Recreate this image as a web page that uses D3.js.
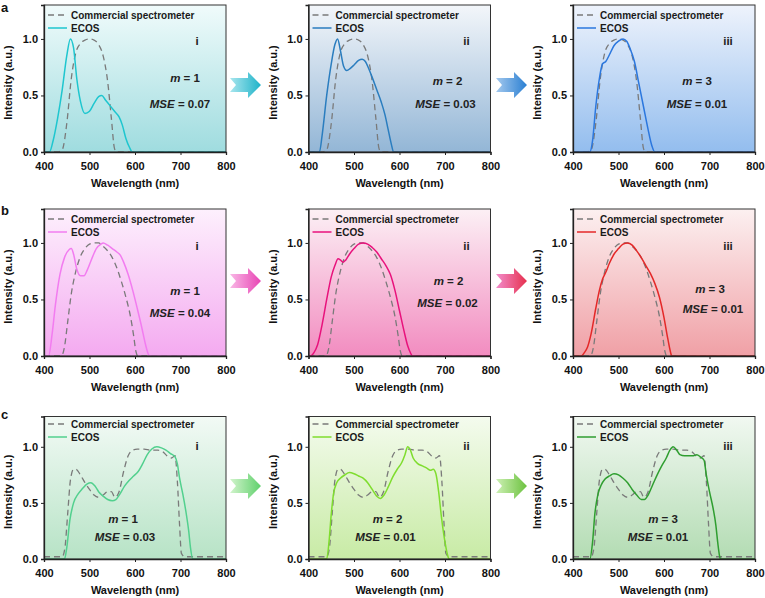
<!DOCTYPE html>
<html>
<head>
<meta charset="utf-8">
<script src="https://cdn.jsdelivr.net/npm/d3@7"></script>
<style>
  body { margin: 0; background: #fff; }
  text { font-family: Arial, "Liberation Sans", Helvetica, sans-serif; }
</style>
</head>
<body>
<div id="chart"></div>
<script>
// ---- data ----
var xTicks = [400, 500, 600, 700, 800];
var yTicks = [0, 0.5, 1.0];
var rowLetters = ["a", "b", "c"];
var colNumerals = ["i", "ii", "iii"];
var mValues = [1, 2, 3];
var mseValues = [["0.07", "0.03", "0.01"], ["0.04", "0.02", "0.01"], ["0.03", "0.01", "0.01"]];

// commercial spectrometer reference spectra (one per row)
var commA = [[400,0],[430,0],[440,0.02],[450,0.25],[460,0.65],[470,0.88],[480,0.96],[490,0.99],[500,1.0],[510,0.99],[520,0.95],[530,0.85],[540,0.62],[548,0.3],[555,0.03],[560,0],[800,0]];
var commB = [[400,0],[438,0],[445,0.08],[452,0.3],[460,0.55],[470,0.75],[480,0.88],[490,0.95],[500,0.99],[510,1.0],[520,1.0],[530,0.97],[540,0.93],[550,0.87],[560,0.78],[570,0.66],[580,0.52],[590,0.35],[597,0.18],[602,0.04],[606,0],[800,0]];
var commC = [[400,0.02],[440,0.02],[446,0.1],[452,0.4],[458,0.7],[465,0.8],[470,0.8],[480,0.75],[490,0.68],[500,0.62],[510,0.57],[520,0.55],[530,0.57],[540,0.6],[548,0.6],[556,0.55],[565,0.6],[575,0.78],[585,0.92],[595,0.97],[605,0.98],[620,0.98],[635,0.97],[650,0.97],[660,0.96],[670,0.92],[680,0.9],[688,0.92],[693,0.7],[698,0.3],[702,0.05],[710,0.02],[800,0.02]];

// ECOS reconstructions
var ecosA1 = [[400,0],[412,0],[420,0.1],[430,0.3],[440,0.55],[450,0.85],[458,1.0],[465,0.92],[472,0.65],[480,0.45],[490,0.34],[500,0.36],[510,0.43],[520,0.49],[527,0.5],[535,0.46],[545,0.41],[555,0.36],[565,0.31],[572,0.24],[580,0.12],[588,0.04],[594,0],[800,0]];
var ecosA2 = [[400,0],[424,0],[430,0.15],[440,0.5],[450,0.78],[458,0.95],[464,1.0],[470,0.9],[477,0.76],[484,0.72],[492,0.74],[500,0.77],[510,0.81],[518,0.82],[525,0.8],[532,0.74],[540,0.66],[550,0.55],[560,0.44],[568,0.33],[575,0.2],[582,0.07],[587,0],[800,0]];
var ecosA3 = [[400,0],[437,0],[443,0.1],[450,0.4],[458,0.65],[465,0.78],[472,0.8],[480,0.86],[490,0.94],[500,0.98],[510,1.0],[518,0.98],[525,0.92],[535,0.8],[545,0.6],[555,0.4],[565,0.2],[573,0.06],[580,0],[800,0]];
var ecosB1 = [[400,0],[410,0],[418,0.2],[425,0.45],[435,0.72],[445,0.87],[455,0.94],[460,0.95],[465,0.9],[472,0.77],[480,0.71],[488,0.71],[495,0.76],[505,0.86],[515,0.95],[525,0.99],[530,1.0],[540,0.98],[550,0.95],[560,0.92],[568,0.89],[575,0.83],[585,0.72],[595,0.58],[605,0.42],[615,0.25],[622,0.12],[628,0.03],[632,0],[800,0]];
var ecosB2 = [[400,0],[405,0],[412,0.03],[420,0.1],[430,0.28],[440,0.5],[450,0.7],[458,0.8],[465,0.86],[470,0.85],[476,0.83],[482,0.85],[490,0.9],[500,0.95],[510,0.99],[520,1.0],[530,0.99],[540,0.96],[550,0.92],[560,0.86],[570,0.8],[580,0.72],[590,0.58],[600,0.4],[610,0.22],[618,0.09],[625,0.02],[628,0],[800,0]];
var ecosB3 = [[400,0],[418,0],[425,0.03],[432,0.08],[440,0.2],[450,0.42],[458,0.58],[465,0.68],[472,0.74],[480,0.82],[490,0.9],[500,0.95],[510,0.99],[520,1.0],[530,0.98],[540,0.93],[550,0.87],[560,0.8],[570,0.73],[580,0.64],[590,0.52],[600,0.34],[608,0.16],[614,0.04],[617,0],[800,0]];
var ecosC1 = [[400,0],[445,0],[450,0.1],[457,0.35],[465,0.5],[475,0.58],[485,0.63],[495,0.67],[503,0.68],[512,0.65],[520,0.6],[530,0.56],[540,0.53],[550,0.52],[558,0.53],[567,0.58],[577,0.65],[587,0.7],[597,0.74],[607,0.78],[617,0.85],[627,0.93],[637,0.98],[648,1.0],[658,0.99],[668,0.97],[678,0.94],[688,0.91],[693,0.85],[698,0.72],[705,0.58],[712,0.42],[718,0.25],[722,0.1],[727,0],[800,0]];
var ecosC2 = [[400,0],[440,0],[445,0.15],[450,0.4],[455,0.58],[462,0.68],[470,0.72],[480,0.75],[490,0.77],[500,0.76],[510,0.74],[520,0.72],[530,0.68],[540,0.62],[550,0.56],[558,0.54],[566,0.57],[575,0.64],[585,0.73],[595,0.8],[605,0.86],[612,0.93],[618,1.0],[623,0.98],[630,0.9],[640,0.85],[650,0.83],[660,0.81],[668,0.79],[674,0.8],[680,0.76],[686,0.6],[692,0.38],[700,0.15],[706,0.03],[709,0],[800,0]];
var ecosC3 = [[400,0],[437,0],[443,0.15],[448,0.4],[455,0.58],[462,0.66],[470,0.71],[480,0.74],[490,0.76],[500,0.75],[510,0.72],[520,0.68],[530,0.62],[540,0.57],[550,0.53],[557,0.53],[565,0.57],[575,0.66],[585,0.75],[595,0.83],[605,0.9],[613,0.97],[620,1.0],[628,0.97],[635,0.93],[645,0.92],[655,0.92],[665,0.92],[672,0.93],[680,0.91],[688,0.88],[693,0.75],[700,0.6],[708,0.45],[714,0.3],[718,0.15],[722,0.03],[724,0],[800,0]];

var commercial = [commA, commB, commC];
var ecos = [[ecosA1, ecosA2, ecosA3], [ecosB1, ecosB2, ecosB3], [ecosC1, ecosC2, ecosC3]];

// ---- layout / styles ----
var W = 765, H = 598;
var colLeft = [44, 308.5, 573];
var plotW = 182;
var rows = [
  { top: 5, bottom: 152, yMax: 1.3, legDy: 10, letterY: 12 },
  { top: 209, bottom: 356, yMax: 1.3, legDy: 10, letterY: 215 },
  { top: 416.5, bottom: 559, yMax: 1.27, legDy: 7.5, letterY: 419 }
];
var lineColors = [["#1ec6cf", "#2a7dbf", "#2b77de"], ["#f27cf0", "#e8127c", "#e42828"], ["#52d08e", "#7fdd2e", "#2f9e30"]];
var bgTop = [["#f0fbfb", "#f3f6fa", "#eef3fc"], ["#fdf0fd", "#fcf0f5", "#fcf0f0"], ["#f2faf5", "#f4fbee", "#f1f8f1"]];
var bgBottom = [["#9fdcdf", "#93b6d6", "#93bdee"], ["#f4aaf0", "#f28cc0", "#f0a0a6"], ["#b7e3c6", "#c8eba5", "#b3dcb3"]];
// annotation positions relative to panel left/top (numeral, m, MSE)
var annot = [
  [[153, 40, 141, 77, 136, 103], [158, 40, 139, 80, 137, 103], [155, 40, 124, 80, 124, 103]],
  [[153, 41, 141, 86, 136, 108], [158, 41, 140, 76, 139, 98], [155, 41, 137, 84, 140, 104]],
  [[153, 33, 79, 106, 81, 124], [158, 33, 79, 106, 77, 124], [155, 33, 90, 106, 85, 124]]
];
var arrowY = [85, 281, 486];
var arrowGrad = [[["#a9e6ee", "#1eb3c9"], ["#a4c9ee", "#2a7fd2"]], [["#f9b8e6", "#e845b4"], ["#f28ccb", "#e6304e"]], [["#d2f4cc", "#5fd06c"], ["#cdf0b4", "#6cc23f"]]];

var svg = d3.select("#chart").append("svg").attr("width", W).attr("height", H);
var defs = svg.append("defs");

rows.forEach(function(r, ri) {
  var y = d3.scaleLinear().domain([0, r.yMax]).range([r.bottom, r.top]);

  svg.append("text").attr("x", 1).attr("y", r.letterY)
    .attr("font-size", 13).attr("font-weight", "bold").attr("fill", "#111").text(rowLetters[ri]);

  colLeft.forEach(function(left, ci) {
    var x = d3.scaleLinear().domain([400, 800]).range([left, left + plotW]);
    var id = "bg" + ri + ci;
    var g = defs.append("linearGradient").attr("id", id).attr("x1", 0).attr("y1", 0).attr("x2", 0).attr("y2", 1);
    g.append("stop").attr("offset", "0%").attr("stop-color", bgTop[ri][ci]);
    g.append("stop").attr("offset", "100%").attr("stop-color", bgBottom[ri][ci]);

    var clipId = "clip" + ri + ci;
    defs.append("clipPath").attr("id", clipId).append("rect")
      .attr("x", left).attr("y", r.top).attr("width", plotW).attr("height", r.bottom - r.top);

    svg.append("rect").attr("x", left).attr("y", r.top).attr("width", plotW).attr("height", r.bottom - r.top)
      .attr("fill", "url(#" + id + ")");

    var line = d3.line().x(function(d) { return x(d[0]); }).y(function(d) { return y(d[1]); })
      .curve(d3.curveMonotoneX);

    var pg = svg.append("g").attr("clip-path", "url(#" + clipId + ")");
    pg.append("path").datum(commercial[ri]).attr("d", line)
      .attr("fill", "none").attr("stroke", "#7a7a7a").attr("stroke-width", 1.3).attr("stroke-dasharray", "6,4");
    pg.append("path").datum(ecos[ri][ci]).attr("d", line)
      .attr("fill", "none").attr("stroke", lineColors[ri][ci]).attr("stroke-width", 1.5);

    // frame
    svg.append("rect").attr("x", left).attr("y", r.top).attr("width", plotW).attr("height", r.bottom - r.top)
      .attr("fill", "none").attr("stroke", "#333").attr("stroke-width", 1);

    var xAxis = svg.append("g").attr("transform", "translate(0," + r.bottom + ")")
      .call(d3.axisBottom(x).tickValues(xTicks).tickSize(3).tickFormat(d3.format("d")));
    var yAxis = svg.append("g").attr("transform", "translate(" + left + ",0)")
      .call(d3.axisLeft(y).tickValues(yTicks).tickSize(3).tickFormat(d3.format(".1f")));
    [xAxis, yAxis].forEach(function(a) {
      a.select(".domain").attr("stroke", "#222").attr("stroke-width", 1.3);
      a.selectAll(".tick line").attr("stroke", "#222");
      a.selectAll(".tick text").attr("font-size", 11).attr("font-weight", "bold")
        .attr("font-family", "Arial, 'Liberation Sans', sans-serif").attr("fill", "#111");
    });
    xAxis.selectAll(".tick text").attr("dy", "1.05em");

    svg.append("text").attr("x", left + plotW / 2).attr("y", r.bottom + 35)
      .attr("text-anchor", "middle").attr("font-size", 11).attr("font-weight", "bold").attr("fill", "#111")
      .text("Wavelength (nm)");
    svg.append("text").attr("transform", "translate(" + (left - 32) + "," + ((r.top + r.bottom) / 2 + 4) + ") rotate(-90)")
      .attr("text-anchor", "middle").attr("font-size", 11).attr("font-weight", "bold").attr("fill", "#111")
      .text("Intensity (a.u.)");

    // legend
    var ly = r.top + r.legDy;
    svg.append("line").attr("x1", left + 4).attr("x2", left + 23).attr("y1", ly).attr("y2", ly)
      .attr("stroke", "#7a7a7a").attr("stroke-width", 1.3).attr("stroke-dasharray", "6,4");
    svg.append("text").attr("x", left + 27).attr("y", ly + 3.5).attr("font-size", 10).attr("font-weight", "bold")
      .attr("fill", "#1a1a1a").text("Commercial spectrometer");
    svg.append("line").attr("x1", left + 4).attr("x2", left + 23).attr("y1", ly + 13).attr("y2", ly + 13)
      .attr("stroke", lineColors[ri][ci]).attr("stroke-width", 1.5);
    svg.append("text").attr("x", left + 27).attr("y", ly + 16.5).attr("font-size", 10).attr("font-weight", "bold")
      .attr("fill", "#1a1a1a").text("ECOS");

    // annotations
    var a = annot[ri][ci];
    svg.append("text").attr("x", left + a[0]).attr("y", r.top + a[1]).attr("text-anchor", "middle")
      .attr("font-size", 11.5).attr("font-weight", "bold").attr("fill", "#222").text(colNumerals[ci]);
    var mt = svg.append("text").attr("x", left + a[2]).attr("y", r.top + a[3]).attr("text-anchor", "middle")
      .attr("font-size", 11.5).attr("font-weight", "bold").attr("fill", "#222");
    mt.append("tspan").attr("font-style", "italic").text("m");
    mt.append("tspan").text(" = " + mValues[ci]);
    var st = svg.append("text").attr("x", left + a[4]).attr("y", r.top + a[5]).attr("text-anchor", "middle")
      .attr("font-size", 11.5).attr("font-weight", "bold").attr("fill", "#222");
    st.append("tspan").attr("font-style", "italic").text("MSE");
    st.append("tspan").text(" = " + mseValues[ri][ci]);

    // arrow to the next panel
    if (ci < 2) {
      var ax = [230, 496][ci], cy = arrowY[ri];
      var gid = "ag" + ri + ci;
      var ag = defs.append("linearGradient").attr("id", gid).attr("x1", 0).attr("y1", 0).attr("x2", 1).attr("y2", 0);
      ag.append("stop").attr("offset", "0%").attr("stop-color", arrowGrad[ri][ci][0]);
      ag.append("stop").attr("offset", "100%").attr("stop-color", arrowGrad[ri][ci][1]);
      var pts = [[0, -7], [18, -7], [18, -13], [31, 0], [18, 13], [18, 7], [0, 7], [6, 0]];
      svg.append("polygon")
        .attr("points", pts.map(function(p) { return (ax + p[0]) + "," + (cy + p[1]); }).join(" "))
        .attr("fill", "url(#" + gid + ")");
    }
  });
});
</script>
</body>
</html>
